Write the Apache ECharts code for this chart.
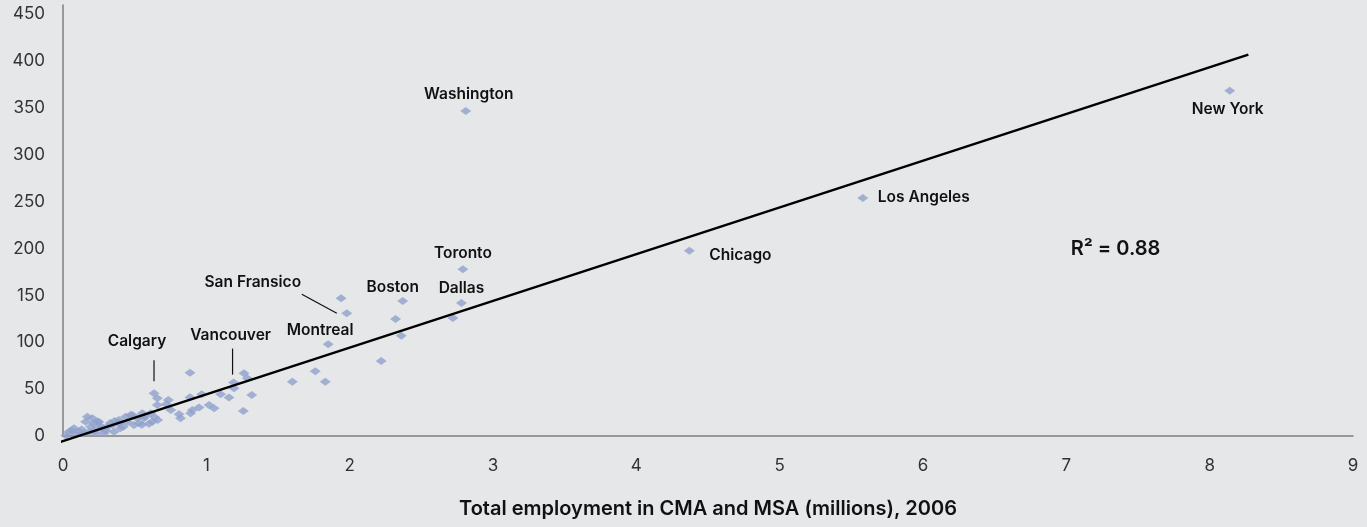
<!DOCTYPE html>
<html>
<head>
<meta charset="utf-8">
<style>
  html, body { margin: 0; padding: 0; background: #e6e7e9; }
  #chart { width: 1367px; height: 527px; }
</style>
<script src="https://cdn.jsdelivr.net/npm/echarts@6/dist/echarts.min.js"></script>
</head>
<body>
<div id="chart"></div>
<script>
// Named metropolitan areas: employment (millions) and the y-value
const cityNames = ['New York', 'Washington', 'Los Angeles', 'Chicago', 'Toronto', 'Dallas',
                   'Boston', 'San Fransico', 'Montreal', 'Vancouver', 'Calgary'];
const cityEmployment = [8.14, 2.81, 5.58, 4.37, 2.79, 2.78, 2.37, 1.98, 1.85, 1.19, 0.635];
const cityValues     = [368.6, 347, 254, 197.6, 178, 142, 144, 131, 98, 57, 45.6];

// Remaining (unlabelled) CMAs / MSAs
const otherEmployment = [
  1.94, 2.32, 2.36, 2.72, 2.22, 1.76, 1.83, 1.60,
  0.886, 0.658, 0.735, 0.72, 0.752, 0.81, 0.82, 0.886, 0.902, 0.89, 0.949, 0.968,
  1.019, 1.054, 1.10, 1.158, 1.193, 1.263, 1.286, 1.317, 1.258,
  0.17, 0.205, 0.158, 0.216, 0.24, 0.193, 0.263, 0.077, 0.042, 0.02, 0.11, 0.147,
  0.31, 0.344, 0.39, 0.437, 0.472, 0.518, 0.553, 0.565, 0.612, 0.53, 0.495, 0.40,
  0.286, 0.228, 0.356, 0.25, 0.39, 0.484, 0.623, 0.658, 0.66, 0.60, 0.55, 0.45,
  0.30, 0.18, 0.09, 0.06, 0.13, 0.33, 0.26, 0.22, 0.42, 0.36, 0.57, 0.64
];
const otherValues = [
  147, 125, 107, 126, 80, 69, 58, 58,
  67.6, 40.3, 38.5, 34, 27.8, 23.2, 19, 41.3, 27.8, 24.3, 30.3, 44.5,
  33.1, 29.6, 44.5, 41, 51, 67, 61.6, 43.8, 26.7,
  20.6, 18.9, 15.3, 13.6, 15.3, 9.9, 8.2, 8.2, 4.6, 0.5, 4.6, 2.9,
  9.9, 11.8, 13.6, 20.6, 22.4, 18.9, 24.3, 18.9, 24.3, 13.6, 11.8, 8.2,
  2.9, 2.9, 4.6, 15.3, 17, 22.4, 15.3, 33, 17, 13, 12, 15,
  6, 4, 2, 6, 7, 14, 11, 6, 10, 16, 21, 20
];

// Linear trend line end points
const trendX = [-0.03, 8.27];
const trendY = [-7, 407];
const rSquared = '0.88';

// Axis ticks
const xTicks = { min: 0, max: 9, interval: 1 };
const yTicks = { min: 0, max: 460, interval: 50 };

const xTitle = 'Total employment in CMA and MSA (millions), 2006';

const pointColor = '#8ea1cc';
const textFont = 'Inter, "Liberation Sans", Arial, Helvetica, sans-serif';

const allPoints = otherEmployment.map((x, i) => [x, otherValues[i]])
  .concat(cityEmployment.map((x, i) => [x, cityValues[i]]));
const trendData = trendX.map((x, i) => [x, trendY[i]]);

const chart = echarts.init(document.getElementById('chart'), null, { renderer: 'canvas' });

chart.setOption({
  backgroundColor: '#e6e7e9',
  animation: false,
  grid: { left: 63, right: 14, top: 5, bottom: 91, containLabel: false },
  xAxis: {
    type: 'value',
    min: xTicks.min, max: xTicks.max, interval: xTicks.interval,
    name: xTitle,
    nameLocation: 'middle',
    nameGap: 63,
    nameTextStyle: { fontFamily: textFont, fontSize: 20, fontWeight: 600, color: '#111' },
    axisLine: { show: true, lineStyle: { color: '#7f7f7f', width: 1.5 } },
    axisTick: { show: false },
    splitLine: { show: false },
    axisLabel: { fontFamily: textFont, fontSize: 17, color: '#333', margin: 21 }
  },
  yAxis: {
    type: 'value',
    min: yTicks.min, max: yTicks.max, interval: yTicks.interval,
    axisLine: { show: true, lineStyle: { color: '#7f7f7f', width: 1.5 } },
    axisTick: { show: false },
    splitLine: { show: false },
    axisLabel: { fontFamily: textFont, fontSize: 17, color: '#333', margin: 18, showMaxLabel: false }
  },
  series: [
    {
      type: 'scatter',
      symbol: 'diamond',
      symbolSize: [11, 8],
      itemStyle: { color: pointColor },
      data: allPoints,
      z: 2
    },
    {
      type: 'line',
      data: trendData,
      symbol: 'none',
      clip: false,
      lineStyle: { color: '#000', width: 2.5 },
      z: 3
    }
  ]
});

// City labels, positioned relative to each city's point (pixel offsets),
// with optional leader lines.
const labelLayout = {
  'New York':     { dx: -2,  dy: 19 },
  'Washington':   { dx: 3,   dy: -17 },
  'Los Angeles':  { dx: 15,  dy: -1, align: 'left' },
  'Chicago':      { dx: 20,  dy: 4,  align: 'left' },
  'Toronto':      { dx: 0,   dy: -16 },
  'Dallas':       { dx: 0,   dy: -15 },
  'Boston':       { dx: -10, dy: -14 },
  'San Fransico': { dx: -94, dy: -31, leader: [-45, -19, -10, 0] },
  'Montreal':     { dx: -8,  dy: -14 },
  'Vancouver':    { dx: -3,  dy: -47, leader: [-1, -34, -1, -8] },
  'Calgary':      { dx: -17, dy: -52, leader: [0, -33, 0, -12] }
};

const graphics = [];
cityNames.forEach((name, i) => {
  const p = chart.convertToPixel({ gridIndex: 0 }, [cityEmployment[i], cityValues[i]]);
  const L = labelLayout[name];
  graphics.push({
    type: 'text',
    x: p[0] + L.dx,
    y: p[1] + L.dy,
    style: {
      text: name,
      font: '600 15.5px ' + textFont,
      fill: '#111',
      align: L.align || 'center',
      verticalAlign: 'middle'
    },
    z: 10
  });
  if (L.leader) {
    graphics.push({
      type: 'line',
      shape: { x1: p[0] + L.leader[0], y1: p[1] + L.leader[1], x2: p[0] + L.leader[2], y2: p[1] + L.leader[3] },
      style: { stroke: '#111', lineWidth: 1.2 },
      z: 10
    });
  }
});

// Goodness-of-fit annotation
const rPos = chart.convertToPixel({ gridIndex: 0 }, [7.03, 200]);
graphics.push({
  type: 'text',
  x: rPos[0],
  y: rPos[1],
  style: {
    text: 'R² = ' + rSquared,
    font: '600 20px ' + textFont,
    fill: '#111',
    align: 'left',
    verticalAlign: 'middle'
  },
  z: 10
});

chart.setOption({ graphic: graphics });
</script>
</body>
</html>
